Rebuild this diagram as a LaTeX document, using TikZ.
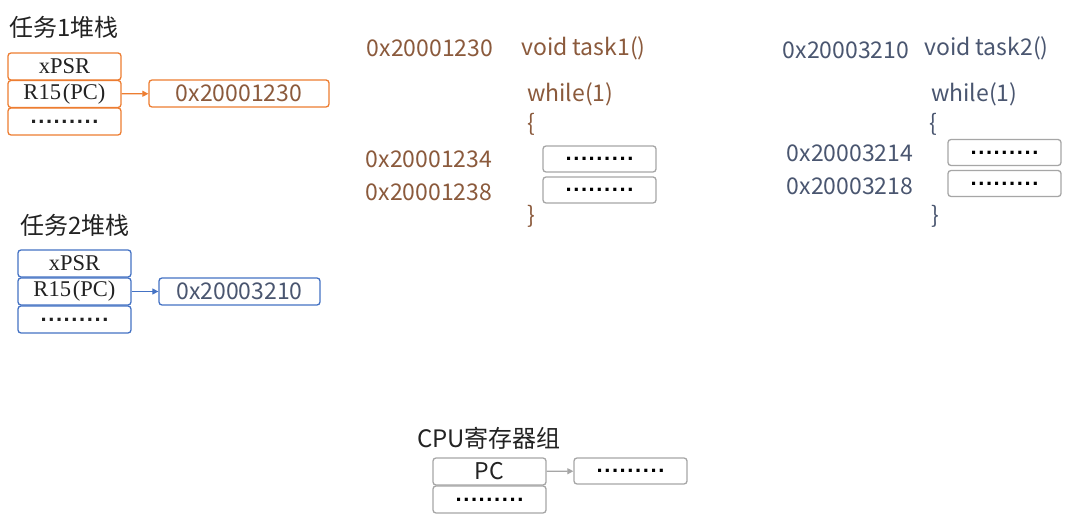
\documentclass[tikz,border=0pt]{standalone}
\usepackage{fontspec}
\setmainfont{Noto Sans CJK SC}
\newfontfamily\serifx{Liberation Serif}
\newfontfamily\dotfont{Liberation Sans}
\usetikzlibrary{arrows.meta}
\definecolor{org}{HTML}{ED7D31}
\definecolor{blu}{HTML}{4472C4}
\definecolor{brn}{HTML}{8B5A3C}
\definecolor{slt}{HTML}{4A5670}
\definecolor{gry}{HTML}{A6A6A6}
\definecolor{ink}{HTML}{222222}
\newcommand\ninedots{{\dotfont\bfseries\fontsize{22}{22}\selectfont .\kern1.6pt.\kern1.6pt.\kern1.6pt.\kern1.6pt.\kern1.6pt.\kern1.6pt.\kern1.6pt.\kern1.6pt.}}
\tikzset{
  box/.style={draw, rounded corners=3pt, line width=1.3pt, minimum width=113pt, minimum height=27pt, inner sep=0pt},
  stk/.style={box, font=\serifx\fontsize{22.5}{22.5}\selectfont, text=ink},
  code/.style={inner sep=0pt, font=\fontsize{23}{23}\selectfont},
  title/.style={inner sep=0pt, font=\fontsize{24}{24}\selectfont, text=ink},
  arr/.style={line width=1.2pt, -{Triangle[length=6pt,width=6pt]}},
}
\begin{document}
\begin{tikzpicture}[x=1pt,y=-1pt]
\useasboundingbox[fill=white] (0,0) rectangle (1080,521);
% Task 1 stack
\node[title] (t1) at (64,27) {任务1堆栈};
\node[stk, draw=org] (a1) at (64.5,66.5) {xPSR};
\node[stk, draw=org] (a2) at (64.5,94) {R15\kern2pt(PC)};
\node[stk, draw=org] (a3) at (64.5,121.5) {\ninedots};
\node[box, draw=org, minimum width=180pt, code, minimum height=27pt, text=brn] (a4) at (239,93.5) {0x20001230};
\draw[arr, org] (a2) -- (a4);
% Task 2 stack
\node[title] (t2) at (75,225) {任务2堆栈};
\node[stk, draw=blu] (b1) at (74.5,263.5) {xPSR};
\node[stk, draw=blu] (b2) at (74.5,291.5) {R15\kern2pt(PC)};
\node[stk, draw=blu] (b3) at (74.5,319.5) {\ninedots};
\node[box, draw=blu, minimum width=161pt, code, minimum height=27pt, text=slt] (b4) at (239.5,291.5) {0x20003210};
\draw[arr, blu] (b2) -- (b4);
% Task 1 code
\begin{scope}[every node/.append style={code, text=brn}]
\node (c1a) at (430,48) {0x20001230};
\node[anchor=west] (c1b) at (521,48) {void task1()};
\node[anchor=west] (c1c) at (527,94) {while(1)};
\node[anchor=west] (c1d) at (527,124) {\{};
\node (c1e) at (429,159) {0x20001234};
\node (c1f) at (429,192) {0x20001238};
\node[anchor=west] (c1g) at (527,216) {\}};
\end{scope}
\node[box, draw=gry, minimum height=26pt] (c1h) at (599.5,159) {\ninedots};
\node[box, draw=gry, minimum height=26pt] (c1i) at (599.5,190) {\ninedots};
% Task 2 code
\begin{scope}[every node/.append style={code, text=slt}]
\node (c2a) at (846,50) {0x20003210};
\node[anchor=west] (c2b) at (924,48) {void task2()};
\node[anchor=west] (c2c) at (931,94) {while(1)};
\node[anchor=west] (c2d) at (929,124) {\{};
\node (c2e) at (850,153) {0x20003214};
\node (c2f) at (850,186) {0x20003218};
\node[anchor=west] (c2g) at (931,216) {\}};
\end{scope}
\node[box, draw=gry, minimum height=26pt] (c2h) at (1004.5,152.5) {\ninedots};
\node[box, draw=gry, minimum height=26pt] (c2i) at (1004.5,183.5) {\ninedots};
% CPU
\node[title] (cpu) at (489,438) {CPU寄存器组};
\node[box, draw=gry, code, minimum width=113pt, minimum height=27pt, text=ink] (p1) at (489.5,471.5) {PC};
\node[box, draw=gry] (p2) at (489.5,499.5) {\ninedots};
\node[box, draw=gry, minimum height=26pt] (p3) at (630.5,471) {\ninedots};
\draw[arr, gry] (p1) -- (p3);
\end{tikzpicture}
\end{document}
